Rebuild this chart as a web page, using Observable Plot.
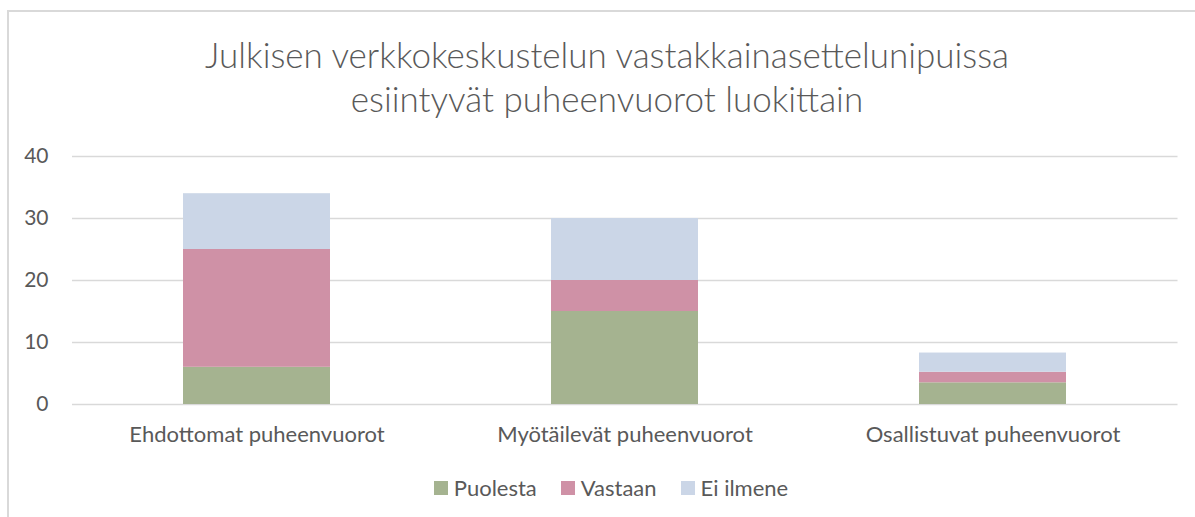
<!DOCTYPE html>
<html>
<head>
<meta charset="utf-8">
<script src="https://cdn.jsdelivr.net/npm/d3@7"></script>
<script src="https://cdn.jsdelivr.net/npm/@observablehq/plot@0.6"></script>
<style>
  html, body { margin: 0; padding: 0; background: #fff; }
  body { width: 1195px; height: 517px; position: relative; overflow: hidden; font-family: Lato, "Open Sans", sans-serif; color: #595959; }
  #frame { position: absolute; left: 7px; top: 10px; width: 1300px; height: 600px; border-top: 2px solid #d9d9d9; border-left: 2px solid #d9d9d9; }
  #title { position: absolute; left: 9px; top: 32px; width: 1196px; text-align: center; font-size: 35px; line-height: 44px; font-weight: 300; }
  #chart { position: absolute; left: 0; top: 140px; }
  #legend { position: absolute; left: 13px; top: 476px; width: 1196px; display: flex; justify-content: center; gap: 24px; font-size: 22px; line-height: 24px; }
  .item { display: flex; align-items: center; gap: 6px; }
  .sw { width: 14px; height: 14px; display: inline-block; }
</style>
</head>
<body>
<div id="frame"></div>
<div id="title">Julkisen verkkokeskustelun vastakkainasettelunipuissa<br>esiintyvät puheenvuorot luokittain</div>
<div id="chart"></div>
<div id="legend"></div>
<script>
const categories = ["Ehdottomat puheenvuorot", "Myötäilevät puheenvuorot", "Osallistuvat puheenvuorot"];
const seriesNames = ["Puolesta", "Vastaan", "Ei ilmene"];
const puolesta = [6, 15, 3.5];
const vastaan = [19, 5, 1.7];
const eiIlmene = [9, 10, 3.1];
const seriesColors = ["#a5b390", "#cf91a6", "#cbd6e7"];
const yTicks = [0, 10, 20, 30, 40];

const seriesValues = [puolesta, vastaan, eiIlmene];
const data = categories.flatMap((c, i) =>
  seriesNames.map((s, j) => ({category: c, series: s, value: seriesValues[j][i]}))
);

const chart = Plot.plot({
  width: 1195,
  height: 320,
  marginLeft: 72,
  marginRight: 17.5,
  marginTop: 16,
  marginBottom: 56,
  style: {fontFamily: "Lato, 'Open Sans', sans-serif", color: "#595959", background: "transparent"},
  x: {domain: categories, paddingInner: 0.6, paddingOuter: 0.3, label: null},
  y: {domain: [0, 40], label: null},
  color: {domain: seriesNames, range: seriesColors},
  marks: [
    Plot.ruleY(yTicks, {stroke: "#d9d9d9", strokeWidth: 1.5}),
    Plot.barY(data, {x: "category", y: "value", fill: "series", order: seriesNames}),
    Plot.axisY({ticks: yTicks, tickSize: 0, tickPadding: 0, dx: -24, textAnchor: "end", label: null, fontSize: 21, fill: "#595959"}),
    Plot.axisX({tickSize: 0, tickPadding: 22, label: null, fontSize: 22, fill: "#595959"})
  ]
});
document.getElementById("chart").appendChild(chart);

const legend = document.getElementById("legend");
seriesNames.forEach((s, i) => {
  const item = document.createElement("div");
  item.className = "item";
  const sw = document.createElement("span");
  sw.className = "sw";
  sw.style.background = seriesColors[i];
  const t = document.createElement("span");
  t.textContent = s;
  item.appendChild(sw);
  item.appendChild(t);
  legend.appendChild(item);
});
</script>
</body>
</html>
